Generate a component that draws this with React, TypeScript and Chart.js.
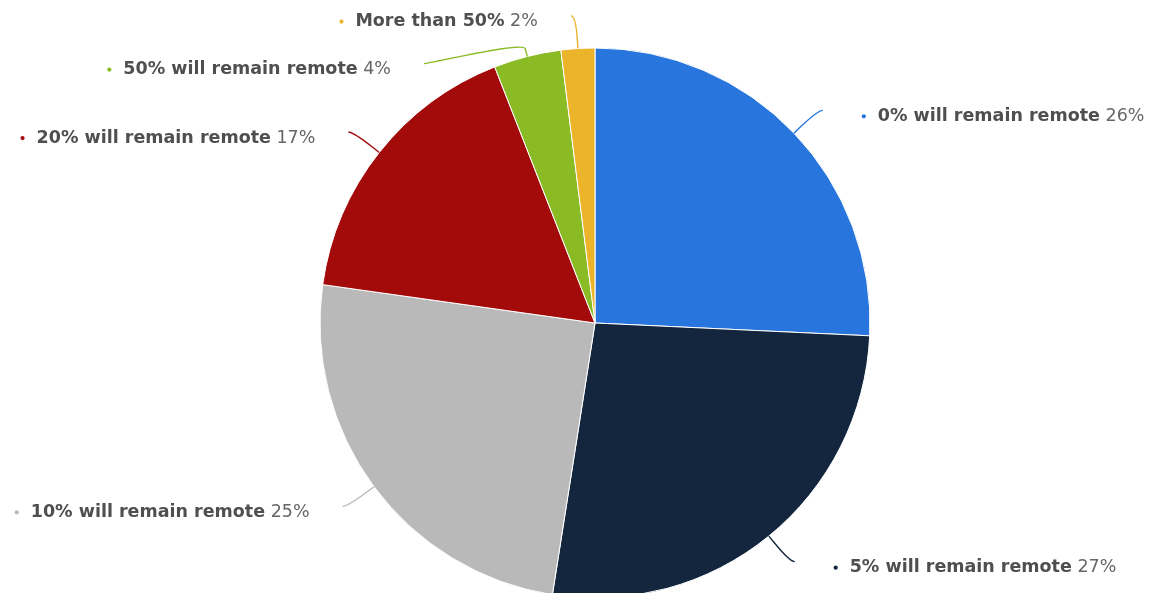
import React, { useEffect, useRef } from "react";
import { Chart, registerables } from "chart.js";

Chart.register(...registerables);

const categories = [
  "0% will remain remote",
  "5% will remain remote",
  "10% will remain remote",
  "20% will remain remote",
  "50% will remain remote",
  "More than 50%",
];
const values = [26, 27, 25, 17, 4, 2];
const valueLabels = ["26%", "27%", "25%", "17%", "4%", "2%"];
const colors = ["#2876dd", "#13263d", "#b9b9b9", "#a30b0b", "#8abb25", "#ebb42a"];

const FONT = '"DejaVu Sans", sans-serif';
const FS = 17.5;

const labelPlugin = {
  id: "pieLabels",
  afterDatasetsDraw(chart: any) {
    const ctx = chart.ctx;
    const meta = chart.getDatasetMeta(0);
    const H = chart.height;
    const PAD = 5;
    const items = meta.data.map((arc: any, i: number) => {
      const p = arc.getProps(["x", "y", "startAngle", "endAngle", "outerRadius"], true);
      const mid = (p.startAngle + p.endAngle) / 2;
      const r = p.outerRadius;
      const labelR = r + 33;
      const cos = Math.cos(mid);
      const sin = Math.sin(mid);
      return {
        i,
        cx: p.x,
        cy: p.y,
        r,
        labelR,
        cos,
        sin,
        left: cos < 0,
        natY: p.y + labelR * sin,
        y: 0,
        x: 0,
      };
    });
    const getX = (it: any, y: number) => {
      const dy = y - it.cy;
      const dx = Math.sqrt(Math.max(it.labelR * it.labelR - dy * dy, 0)) + PAD;
      return it.cx + (it.left ? -dx : dx);
    };
    const spacing = 48;
    const minY = 15;
    const maxY = H - 15;
    [true, false].forEach((side) => {
      const group = items.filter((it: any) => it.left === side).sort((a: any, b: any) => a.natY - b.natY);
      let prev = -Infinity;
      group.forEach((it: any) => {
        it.y = Math.max(it.natY, prev + spacing, minY);
        prev = it.y;
      });
      let next = Infinity;
      for (let k = group.length - 1; k >= 0; k--) {
        const it = group[k];
        it.y = Math.min(it.y, next - spacing, maxY);
        next = it.y;
      }
      group.forEach((it: any) => {
        it.x = Math.abs(it.y - it.natY) < 8 ? getX(it, it.natY) : getX(it, it.y);
      });
    });

    ctx.save();
    items.forEach((it: any) => {
      const color = colors[it.i];
      const tx = it.cx + it.r * it.cos;
      const ty = it.cy + it.r * it.sin;
      const bx = it.cx + (it.r + 8) * it.cos;
      const by = it.cy + (it.r + 8) * it.sin;
      ctx.beginPath();
      ctx.moveTo(it.x, it.y);
      ctx.bezierCurveTo(it.x + (it.left ? 5 : -5), it.y, 2 * bx - tx, 2 * by - ty, bx, by);
      ctx.lineTo(tx, ty);
      ctx.strokeStyle = color;
      ctx.lineWidth = 1.4;
      ctx.stroke();

      const boldText = categories[it.i];
      const valText = " " + valueLabels[it.i];
      ctx.font = `bold ${FS}px ${FONT}`;
      const wb = ctx.measureText(boldText).width;
      ctx.font = `${FS}px ${FONT}`;
      const wv = ctx.measureText(valText).width;
      const ly = it.y + 6;
      let textStart;
      if (it.left) {
        textStart = it.x - 33 - (wb + wv);
      } else {
        textStart = it.x + 55;
      }
      const dotX = textStart - 14;
      ctx.beginPath();
      ctx.arc(dotX, ly, 2.1, 0, Math.PI * 2);
      ctx.fillStyle = color;
      ctx.fill();

      ctx.textBaseline = "middle";
      ctx.textAlign = "left";
      ctx.font = `bold ${FS}px ${FONT}`;
      ctx.fillStyle = "#4f4f4f";
      ctx.fillText(boldText, textStart, ly);
      ctx.font = `${FS}px ${FONT}`;
      ctx.fillStyle = "#666666";
      ctx.fillText(valText, textStart + wb, ly);
    });
    ctx.restore();
  },
};

export default function App() {
  const ref = useRef<HTMLCanvasElement | null>(null);
  useEffect(() => {
    if (!ref.current) return;
    const chart = new Chart(ref.current, {
      type: "pie",
      data: {
        labels: categories,
        datasets: [
          {
            data: values,
            backgroundColor: colors,
            borderColor: "#ffffff",
            borderWidth: 1,
            radius: 275,
            clip: false,
          } as any,
        ],
      },
      options: {
        responsive: false,
        animation: false,
        devicePixelRatio: 1,
        layout: { padding: { top: 53, bottom: 0, left: 320, right: 282 } },
        plugins: {
          legend: { display: false },
          tooltip: { enabled: false },
        },
      },
      plugins: [labelPlugin],
    });
    return () => chart.destroy();
  }, []);
  return (
    <div style={{ position: "absolute", left: 0, top: 0, width: 1152, height: 593, background: "#fff" }}>
      <canvas ref={ref} width={1152} height={593} style={{ display: "block" }} />
    </div>
  );
}
